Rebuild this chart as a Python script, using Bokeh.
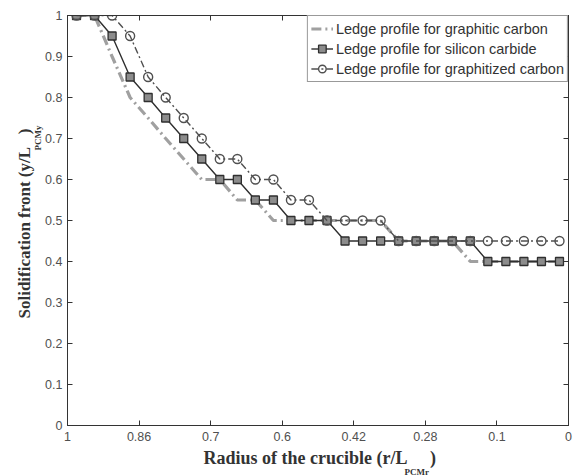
from bokeh.plotting import figure
from bokeh.models import Range1d, FixedTicker, LinearAxis, Legend, LegendItem, Title
from bokeh.embed import file_html
from bokeh.resources import INLINE

# ---------------- data ----------------
radius = [0.982, 0.946, 0.911, 0.875, 0.839, 0.804, 0.768, 0.732, 0.696, 0.661,
          0.625, 0.589, 0.554, 0.518, 0.482, 0.446, 0.411, 0.375, 0.339, 0.304,
          0.268, 0.232, 0.196, 0.161, 0.125, 0.089, 0.054, 0.018]
graphitic = [1.0, 1.0, 0.9, 0.8, 0.75, 0.7, 0.65, 0.6, 0.6, 0.55,
             0.55, 0.5, 0.5, 0.5, 0.5, 0.5, 0.5, 0.5, 0.45, 0.45,
             0.45, 0.45, 0.4, 0.4, 0.4, 0.4, 0.4, 0.4]
silicon = [1.0, 1.0, 0.95, 0.85, 0.8, 0.75, 0.7, 0.65, 0.6, 0.6,
           0.55, 0.55, 0.5, 0.5, 0.5, 0.45, 0.45, 0.45, 0.45, 0.45,
           0.45, 0.45, 0.45, 0.4, 0.4, 0.4, 0.4, 0.4]
graphitized = [1.0, 1.0, 1.0, 0.95, 0.85, 0.8, 0.75, 0.7, 0.65, 0.65,
               0.6, 0.6, 0.55, 0.55, 0.5, 0.5, 0.5, 0.5, 0.45, 0.45,
               0.45, 0.45, 0.45, 0.45, 0.45, 0.45, 0.45, 0.45]
x_tick_labels = ["1", "0.86", "0.7", "0.6", "0.42", "0.28", "0.1", "0"]
y_tick_labels = ["0", "0.1", "0.2", "0.3", "0.4", "0.5", "0.6", "0.7", "0.8", "0.9", "1"]
series_names = ["Ledge profile for graphitic carbon",
                "Ledge profile for silicon carbide",
                "Ledge profile for graphitized carbon"]
x_title, x_sub = "Radius of the crucible (r/L", "PCMr"
y_title, y_sub = "Solidification front (y/L", "PCMy"

# ---------------- figure ----------------
p = figure(width=575, height=476, output_backend="svg", toolbar_location=None,
           x_range=Range1d(1, 0), y_range=Range1d(0, 1),
           min_border_left=67, min_border_right=7, min_border_top=15, min_border_bottom=51,
           background_fill_color="white", border_fill_color="white")
p.grid.visible = False
p.outline_line_color = "#333333"
p.outline_line_width = 1

n_x = len(x_tick_labels) - 1
x_ticks = [1 - k / n_x for k in range(len(x_tick_labels))]
y_ticks = [k / 10 for k in range(len(y_tick_labels))]

for ax, ticks, labels in ((p.xaxis[0], x_ticks, x_tick_labels), (p.yaxis[0], y_ticks, y_tick_labels)):
    ax.ticker = FixedTicker(ticks=ticks)
    ax.major_label_overrides = {t: l for t, l in zip(ticks, labels)}
    ax.major_tick_in = 5
    ax.major_tick_out = 0
    ax.minor_tick_line_color = None
    ax.axis_line_color = "#333333"
    ax.major_tick_line_color = "#333333"
    ax.major_label_text_font = "Liberation Sans"
    ax.major_label_text_font_size = "12.5px"
    ax.major_label_text_color = "#505050"
p.xaxis[0].major_label_standoff = 6
p.yaxis[0].major_label_standoff = 5

# mirrored axes (top / right) with inward ticks only, no labels
top = LinearAxis(ticker=FixedTicker(ticks=x_ticks), major_tick_in=5, major_tick_out=0,
                 minor_tick_line_color=None, major_label_overrides={t: "" for t in x_ticks},
                 axis_line_color="#333333", major_tick_line_color="#333333")
right = LinearAxis(ticker=FixedTicker(ticks=y_ticks), major_tick_in=5, major_tick_out=0,
                   minor_tick_line_color=None, major_label_overrides={t: "" for t in y_ticks},
                   axis_line_color="#333333", major_tick_line_color="#333333")
p.add_layout(top, "above")
p.add_layout(right, "right")

# ---------------- series ----------------
r1 = p.line(radius, graphitic, line_color="#a0a0a0", line_width=3.2, line_dash="10 4 2 4")

r2 = p.line(radius, silicon, line_color="#2f2f2f", line_width=1.4)
r2m = p.scatter(radius, silicon, marker="square", size=8, fill_color="#8c8c8c",
                line_color="#2f2f2f", line_width=1.3)

r3 = p.line(radius, graphitized, line_color="#505050", line_width=1.4, line_dash="7 3 2 3")
r3m = p.scatter(radius, graphitized, marker="circle", size=9, fill_color=None,
                line_color="#505050", line_width=1.4)

legend = Legend(items=[LegendItem(label=series_names[0], renderers=[r1]),
                       LegendItem(label=series_names[1], renderers=[r2, r2m]),
                       LegendItem(label=series_names[2], renderers=[r3, r3m])],
                location="top_right", margin=0, padding=3, spacing=1,
                glyph_width=22, glyph_height=19, label_height=19, label_standoff=3,
                label_text_font="Liberation Sans", label_text_font_size="14.5px",
                label_text_color="#333333",
                border_line_color="#333333", border_line_width=1,
                background_fill_color="white", background_fill_alpha=1)
p.add_layout(legend)

# ---------------- axis titles with subscripts (side-panel titles) ----------------
serif = "Liberation Serif"
tstyle = dict(text_font=serif, text_font_style="bold", text_color="#333333", align="left")

# below: main title first (closest to the axis), subscript under the gap
p.add_layout(Title(text=x_title + "\u00a0" * 5 + ")", text_font_size="18px", offset=136,
                   standoff=5, **tstyle), "below")
p.add_layout(Title(text=x_sub, text_font_size="9px", offset=337, standoff=-12, **tstyle), "below")

# left: subscript first (closest to the axis), then main title
p.add_layout(Title(text=y_sub, text_font_size="9px", offset=275, standoff=0, **tstyle), "left")
p.add_layout(Title(text=y_title + "\u00a0" * 3 + ")", text_font_size="17px", offset=107,
                   standoff=-6, **tstyle), "left")

open("out.html", "w").write(file_html(p, INLINE))
